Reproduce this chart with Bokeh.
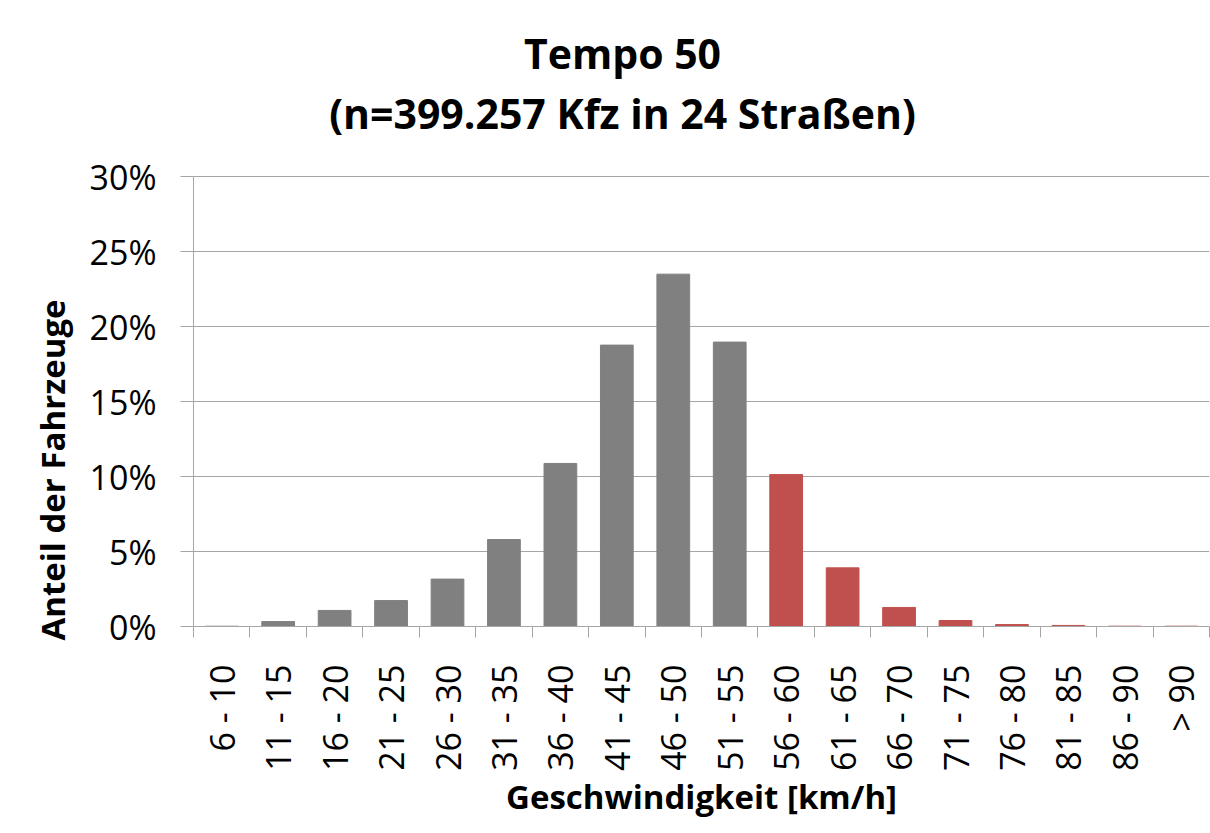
import math
from bokeh.plotting import figure
from bokeh.models import (Range1d, LinearAxis, FixedTicker, Title, Label,
                          PrintfTickFormatter, ColumnDataSource)
from bokeh.embed import file_html
from bokeh.resources import INLINE

# ---- data -------------------------------------------------------------
categories = ["6 - 10", "11 - 15", "16 - 20", "21 - 25", "26 - 30", "31 - 35",
              "36 - 40", "41 - 45", "46 - 50", "51 - 55", "56 - 60", "61 - 65",
              "66 - 70", "71 - 75", "76 - 80", "81 - 85", "86 - 90", "> 90"]
shares_pct = [0.02, 0.33, 1.07, 1.73, 3.16, 5.80, 10.87, 18.76, 23.49, 18.96,
              10.13, 3.91, 1.27, 0.40, 0.13, 0.07, 0.02, 0.02]
over_limit = [False] * 10 + [True] * 8
y_ticks = [0, 5, 10, 15, 20, 25, 30]
title_lines = ["Tempo 50", "(n=399.257 Kfz in 24 Straßen)"]
x_title = "Geschwindigkeit [km/h]"
y_title = "Anteil der Fahrzeuge"

# ---- style / layout ----------------------------------------------------
GRAY_BAR = "#808080"
RED_BAR = "#C0504D"
LINE_GRAY = "#A6A6A6"
FONT = "Open Sans"

W, H = 1210, 833
LEFT, BOTTOM = 193, 207
AXIS_PX = 450                      # pixel height of the 0..30 % axis
frame_h = H - BOTTOM               # frame reaches the top so the titles fit inside
y_max = y_ticks[-1]
y_end = y_max * frame_h / AXIS_PX  # extra headroom above 30 % holds the title

n = len(categories)
centers = [i + 0.5 for i in range(n)]
colors = [RED_BAR if o else GRAY_BAR for o in over_limit]
src = ColumnDataSource(dict(x=centers, share=shares_pct, color=colors))

p = figure(x_range=Range1d(0, n), y_range=Range1d(0, y_end),
           width=W, height=H, output_backend="svg", toolbar_location=None,
           x_axis_location=None, y_axis_location="left",
           min_border_left=LEFT, min_border_right=1, min_border_top=0,
           min_border_bottom=BOTTOM)
p.outline_line_color = None
p.background_fill_color = "white"
p.border_fill_color = "white"
p.xgrid.visible = False

p.vbar(x="x", top="share", width=0.58, color="color", source=src)

# y axis
yax = p.yaxis[0]
yax.bounds = (0, y_max)
yax.ticker = FixedTicker(ticks=y_ticks)
yax.formatter = PrintfTickFormatter(format="%d%%")
yax.major_tick_out = 13
yax.major_tick_in = 0
yax.minor_tick_out = 0
yax.minor_tick_in = 0
yax.axis_line_color = LINE_GRAY
yax.major_tick_line_color = LINE_GRAY
yax.major_label_text_font = FONT
yax.major_label_text_font_size = "34px"
yax.major_label_text_color = "black"
yax.major_label_standoff = 24
p.ygrid.ticker = FixedTicker(ticks=y_ticks)
p.ygrid.grid_line_color = LINE_GRAY
p.ygrid.grid_line_width = 1

# x axis: labels at bar centres, tick marks (minor) at category boundaries
xax = LinearAxis(ticker=FixedTicker(ticks=centers, minor_ticks=list(range(n + 1))),
                 major_label_overrides={c: lab for c, lab in zip(centers, categories)},
                 major_tick_out=0, major_tick_in=0,
                 minor_tick_out=11, minor_tick_in=0,
                 axis_line_color=LINE_GRAY, minor_tick_line_color=LINE_GRAY,
                 major_tick_line_color=None,
                 major_label_orientation=math.pi / 2,
                 major_label_standoff=27,
                 major_label_text_font=FONT,
                 major_label_text_font_size="34px",
                 major_label_text_color="black",
                 axis_label=x_title,
                 axis_label_text_font=FONT,
                 axis_label_text_font_size="33px",
                 axis_label_text_font_style="bold",
                 axis_label_text_color="black",
                 axis_label_standoff=0)
p.add_layout(xax, "below")

# chart title: two centred lines inside the (extended) frame, screen px from frame corner
for text, y in zip(title_lines, (frame_h - 52, frame_h - 112)):
    p.add_layout(Label(x=429, y=y, x_units="screen", y_units="screen", text=text,
                       text_font=FONT, text_font_size="41px", text_font_style="bold",
                       text_align="center", text_baseline="alphabetic",
                       text_color="black"))

# y axis title
p.add_layout(Title(text=y_title, align="left", offset=-14, standoff=24,
                   text_font=FONT, text_font_size="33px", text_font_style="bold",
                   text_color="black"), "left")

open("out.html", "w").write(file_html(p, INLINE))
